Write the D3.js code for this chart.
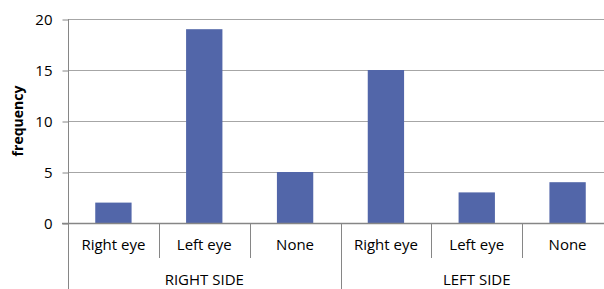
<!DOCTYPE html>
<html>
<head>
<meta charset="utf-8">
<script src="https://cdn.jsdelivr.net/npm/d3@7"></script>
<style>
  body { margin: 0; background: #fff; }
  text { font-family: "Open Sans", sans-serif; fill: #000; }
</style>
</head>
<body>
<div id="chart"></div>
<script>
var width = 604;
var height = 289;

// data
var groups = ['RIGHT SIDE', 'LEFT SIDE'];
var categories = ['Right eye', 'Left eye', 'None'];
var values = [2, 19, 5, 15, 3, 4];
var yTicks = [0, 5, 10, 15, 20];

var margin = {top: 19, left: 68, bottom: 66};
var plotRight = 613;

var keys = [];
groups.forEach(function(g){
	categories.forEach(function(c){ keys.push(g + '|' + c); });
});

var x = d3.scaleBand()
	.domain(keys)
	.range([margin.left, plotRight])
	.paddingInner(0)
	.paddingOuter(0);

var y = d3.scaleLinear()
	.domain([0, 20])
	.range([height - margin.bottom, margin.top]);

var svg = d3.select('#chart')
	.append('svg')
	.attr('width', width)
	.attr('height', height);

// gridlines
svg.selectAll('line.grid')
	.data(yTicks.slice(1))
	.enter()
	.append('line')
	.attr('x1', margin.left)
	.attr('x2', plotRight)
	.attr('y1', function(d){ return y(d) + 0.5; })
	.attr('y2', function(d){ return y(d) + 0.5; })
	.attr('stroke', '#a6a6a6')
	.attr('stroke-width', 1);

// bars
var barW = x.bandwidth() * 0.4;
svg.selectAll('rect')
	.data(values)
	.enter()
	.append('rect')
	.attr('x', function(d, i){ return x(keys[i]) + (x.bandwidth() - barW) / 2; })
	.attr('y', function(d){ return y(d); })
	.attr('width', barW)
	.attr('height', function(d){ return y(0) - y(d); })
	.attr('fill', '#5266a9');

// y axis
var yAxis = d3.axisLeft(y)
	.tickValues(yTicks)
	.tickSize(6)
	.tickPadding(10);
var ya = svg.append('g')
	.attr('transform', 'translate(' + (margin.left + 0.5) + ',0.5)')
	.call(yAxis);
ya.select('.domain').remove();
ya.selectAll('line').attr('stroke', '#868686');
ya.selectAll('text')
	.style('font-size', '15px')
	.attr('dy', '0.35em');

svg.append('line')
	.attr('x1', margin.left + 0.5).attr('x2', margin.left + 0.5)
	.attr('y1', margin.top).attr('y2', height)
	.attr('stroke', '#868686');

// x baseline
svg.append('line')
	.attr('x1', margin.left - 6).attr('x2', plotRight)
	.attr('y1', y(0) + 0.5).attr('y2', y(0) + 0.5)
	.attr('stroke', '#868686')
	.attr('stroke-width', 1.5);

// category separators and labels
var sepY2 = y(0) + 35;
keys.forEach(function(k, i){
	var x0 = x(k);
	if (i > 0) {
		var full = (i % categories.length) === 0;
		svg.append('line')
			.attr('x1', Math.round(x0) + 0.5).attr('x2', Math.round(x0) + 0.5)
			.attr('y1', y(0)).attr('y2', full ? height : sepY2)
			.attr('stroke', '#868686');
	}
	svg.append('text')
		.attr('x', x0 + x.bandwidth() / 2)
		.attr('y', y(0) + 27)
		.attr('text-anchor', 'middle')
		.style('font-size', '15px')
		.text(k.split('|')[1]);
});

// group labels
groups.forEach(function(g, gi){
	var first = x(g + '|' + categories[0]);
	var last = x(g + '|' + categories[categories.length - 1]) + x.bandwidth();
	svg.append('text')
		.attr('x', (first + last) / 2)
		.attr('y', height - 4)
		.attr('text-anchor', 'middle')
		.style('font-size', '15px')
		.text(g);
});

// y axis title
svg.append('text')
	.attr('transform', 'translate(23,' + ((y(0) + y(20)) / 2) + ') rotate(-90)')
	.attr('text-anchor', 'middle')
	.style('font-size', '14px')
	.style('font-weight', 'bold')
	.text('frequency');
</script>
</body>
</html>
